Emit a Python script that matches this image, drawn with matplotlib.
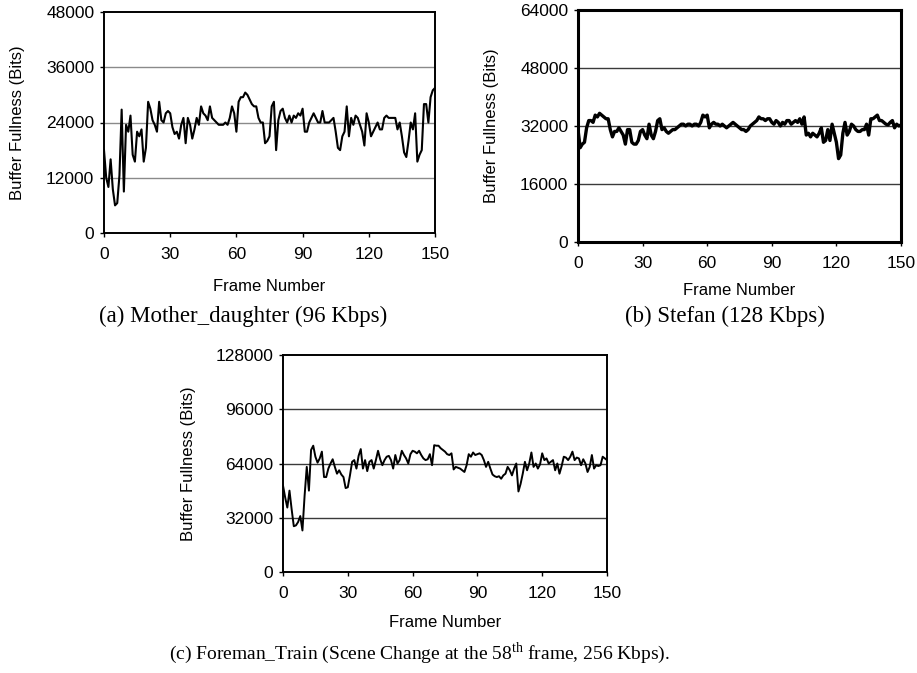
import numpy as np
import matplotlib.pyplot as plt

# buffer fullness (bits) per frame
frames = np.arange(151)

mother_daughter = [
    18000, 12000, 10000, 16000, 9500, 6000, 6500, 12500, 26800, 9000,
    23500, 22000, 25500, 17000, 15500, 22000, 21000, 22500, 15500, 18500,
    28500, 27000, 24500, 23500, 22000, 28500, 24500, 24000, 26000, 26500,
    26000, 23000, 21500, 22000, 20500, 23500, 25000, 19500, 25000, 23500,
    20500, 22500, 25000, 23500, 27500, 26000, 25500, 24500, 27500, 25000,
    24500, 24000, 23500, 23500, 23500, 24000, 23500, 25000, 27500, 26000,
    22000, 28500, 29500, 29500, 30500, 30000, 29000, 28000, 27500, 27500,
    25000, 24000, 24000, 19500, 20000, 21000, 27500, 28500, 18000, 24500,
    26500, 27000, 25000, 24000, 25500, 24000, 25500, 25000, 26000, 25500,
    27000, 22000, 22000, 24000, 25000, 26000, 25000, 24000, 24000, 26500,
    24000, 24000, 24000, 24500, 25000, 22000, 18500, 18000, 21000, 22000,
    27500, 21000, 25000, 23500, 25500, 25000, 23500, 22000, 19000, 26000,
    24000, 21000, 22000, 23000, 24000, 22500, 22500, 25000, 25500, 25000,
    25000, 25000, 25000, 22500, 24000, 21000, 17500, 16500, 20000, 24000,
    22500, 26000, 15500, 17000, 18000, 28000, 28000, 24000, 29500, 31000,
    31500,
]

stefan = [
    31000, 26000, 27000, 27500, 31500, 33500, 33500, 33000, 35000, 34500,
    35500, 35000, 34500, 34000, 34000, 31000, 29000, 30500, 30500, 31500,
    30500, 29500, 27000, 31000, 31000, 27500, 27000, 27000, 28000, 30500,
    31000, 29500, 28500, 32500, 29500, 28500, 30500, 33500, 34000, 31000,
    31500, 30500, 30000, 30500, 31000, 31000, 31500, 32000, 32500, 32500,
    32000, 32500, 32500, 32000, 32500, 32500, 32000, 33000, 35000, 34500,
    35000, 31500, 32500, 33000, 32500, 32500, 32000, 32500, 32000, 31500,
    32000, 32500, 33000, 32500, 32000, 31500, 31000, 31000, 30500, 31000,
    32000, 32500, 33000, 33500, 34500, 34000, 34000, 33500, 34000, 34000,
    33000, 32500, 33500, 33000, 32000, 33000, 32500, 33500, 33500, 32500,
    33000, 33500, 33000, 34000, 32500, 34500, 29500, 30000, 29000, 30000,
    29500, 29000, 30000, 31500, 27500, 28000, 31000, 28000, 32500, 30000,
    27500, 23000, 24000, 30000, 33000, 29500, 30500, 32500, 32000, 31000,
    30500, 30500, 31000, 31000, 32500, 29500, 34000, 34000, 34500, 35000,
    33500, 33500, 33000, 32500, 32300, 33000, 33500, 31500, 32500, 32000,
    32300,
]

foreman_train = [
    51000, 44000, 38000, 48000, 37000, 27000, 27500, 29500, 33000, 24500,
    45000, 62000, 48000, 72000, 74500, 68000, 64500, 67000, 71000, 56000,
    56000, 61000, 64000, 66500, 62000, 58000, 60000, 57500, 56000, 49500,
    50000, 57000, 65000, 66000, 61000, 68500, 72500, 61000, 66000, 59500,
    65000, 66000, 61000, 66000, 71500, 66500, 63000, 66000, 68000, 68500,
    66000, 61000, 69000, 64000, 66000, 71500, 69000, 67000, 64000, 69500,
    71500, 71000, 70000, 71500, 69000, 67000, 66000, 66500, 69500, 63000,
    74800, 74500, 74500, 73000, 72000, 71000, 69500, 69000, 70000, 60500,
    62000, 61500, 61000, 60000, 59000, 63000, 69500, 68000, 70500, 69000,
    69500, 70000, 69000, 66000, 62000, 65000, 61000, 57500, 56500, 56000,
    56500, 55000, 57000, 58000, 62000, 60000, 57000, 61000, 64000, 47500,
    52000, 58000, 65000, 60000, 64000, 70500, 62000, 64000, 61000, 63500,
    70000, 66000, 67000, 64000, 65000, 66000, 60000, 64000, 58000, 62500,
    68000, 67500, 66000, 68000, 71000, 66000, 67500, 67000, 63000, 66500,
    64000, 59000, 62000, 69000, 61000, 63000, 62500, 63000, 68000, 67000,
    66000,
]

x_ticks = [0, 30, 60, 90, 120, 150]

plt.rcParams['font.family'] = ['Liberation Sans', 'DejaVu Sans']
plt.rcParams['mathtext.fontset'] = 'custom'
plt.rcParams['mathtext.rm'] = 'Liberation Serif'

W, H = 917, 673
fig = plt.figure(figsize=(W / 100, H / 100), dpi=100)


def px_rect(left, top, right, bottom):
    # pixel box -> figure fraction rect
    return [left / W, 1 - bottom / H, (right - left) / W, (bottom - top) / H]


def draw_panel(rect, values, ymax, grid_color, spine_w, line_w, ylab_x, xlab_y):
    ax = fig.add_axes(rect)
    ax.plot(frames, values, color='black', lw=line_w, solid_joinstyle='round')
    ax.set_xlim(0, 150)
    ax.set_ylim(0, ymax)
    ax.set_xticks(x_ticks)
    yt = np.linspace(0, ymax, 5)
    ax.set_yticks(yt)
    ax.set_yticklabels([f"{int(v)}" for v in yt])
    for v in yt[1:-1]:
        ax.axhline(v, color=grid_color, lw=1.0, zorder=0)
    for s in ax.spines.values():
        s.set_linewidth(spine_w)
        s.set_color('black')
    ax.tick_params(axis='both', direction='out', length=3, width=1,
                   labelsize=12.5, colors='black')
    ax.tick_params(axis='x', pad=7)
    ax.tick_params(axis='y', pad=4)
    ax.set_ylabel("Buffer Fullness (Bits)", fontsize=12, va='center')
    ax.yaxis.set_label_coords(ylab_x, 0.5)
    ax.set_xlabel("Frame Number", fontsize=12, va='center')
    ax.xaxis.set_label_coords(0.5, xlab_y)
    return ax


draw_panel(px_rect(104, 12, 435, 233), mother_daughter, 48000,
           '#8a8a8a', 1.4, 1.5, -0.26, -0.24)
draw_panel(px_rect(578, 10, 901, 242), stefan, 64000,
           '#3a3a3a', 2.2, 2.4, -0.267, -0.21)
draw_panel(px_rect(283, 355, 607, 572), foreman_train, 128000,
           '#3a3a3a', 1.4, 1.4, -0.293, -0.234)

cap = dict(family='Liberation Serif', ha='center', va='center')
fig.text(243 / W, 1 - 316 / H, "(a) Mother_daughter (96 Kbps)", fontsize=16.5, **cap)
fig.text(725 / W, 1 - 316 / H, "(b) Stefan (128 Kbps)", fontsize=16.5, **cap)
fig.text(419 / W, 1 - 653 / H,
         r"(c) Foreman_Train (Scene Change at the 58$^{\rm th}$ frame, 256 Kbps).",
         fontsize=14, **cap)

fig.savefig("out.png", dpi=100)
